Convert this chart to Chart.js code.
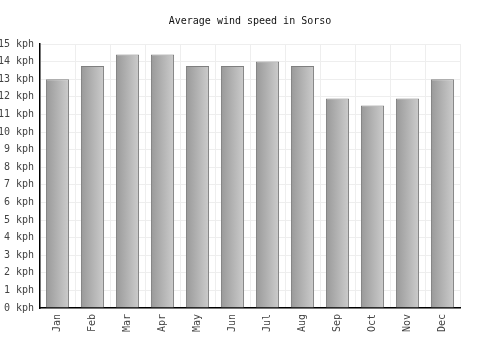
<!DOCTYPE html>
<html>
<head>
<meta charset="utf-8">
<script src="https://cdn.jsdelivr.net/npm/chart.js@4/dist/chart.umd.min.js"></script>
<style>
html,body{margin:0;padding:0;background:#fff;}
#wrap{width:500px;height:350px;}
</style>
</head>
<body>
<div id="wrap"><canvas id="c" width="500" height="350"></canvas></div>
<script>
const months = ["Jan","Feb","Mar","Apr","May","Jun","Jul","Aug","Sep","Oct","Nov","Dec"];
const windSpeed = [13.0, 13.75, 14.4, 14.4, 13.75, 13.75, 14.0, 13.75, 11.9, 11.5, 11.9, 13.0];
const unit = "kph";
const titleText = "Average wind speed in Sorso";

const FONT = "'DejaVu Sans Mono', monospace";
const BAR_PCT = 0.66;

function barGradient(context) {
  const chart = context.chart;
  const xs = chart.scales && chart.scales.x;
  if (!xs || context.dataIndex === undefined) return '#b0b0b0';
  const cx = xs.getPixelForValue(context.dataIndex);
  const w = xs.width / months.length * BAR_PCT;
  if (!isFinite(cx) || !isFinite(w) || w <= 0) return '#b0b0b0';
  const g = chart.ctx.createLinearGradient(cx - w / 2, 0, cx + w / 2, 0);
  g.addColorStop(0, '#999999');
  g.addColorStop(1, '#cccccc');
  return g;
}

new Chart(document.getElementById('c'), {
  type: 'bar',
  data: {
    labels: months,
    datasets: [{
      data: windSpeed,
      backgroundColor: barGradient,
      borderColor: '#7f7f7f',
      borderWidth: 1,
      borderSkipped: 'bottom',
      barPercentage: BAR_PCT,
      categoryPercentage: 1.0
    }]
  },
  options: {
    responsive: false,
    animation: false,
    devicePixelRatio: 1,
    layout: { padding: 0 },
    plugins: {
      legend: { display: false },
      tooltip: { enabled: false },
      title: {
        display: true,
        text: titleText,
        color: '#111',
        font: { family: FONT, size: 10, weight: 'normal' },
        padding: { top: 15, bottom: 17 }
      }
    },
    scales: {
      x: {
        offset: true,
        grid: { color: '#eeeeee', offset: true, drawTicks: false },
        border: { color: '#000', width: 1.5 },
        ticks: {
          color: '#444',
          font: { family: FONT, size: 10 },
          maxRotation: 90, minRotation: 90,
          padding: 6
        },
        afterFit(scale) { scale.height = 42; }
      },
      y: {
        min: 0, max: 15,
        grid: { color: '#eeeeee', drawTicks: false },
        border: { color: '#000', width: 1.5 },
        ticks: {
          stepSize: 1,
          color: '#444',
          font: { family: FONT, size: 10 },
          padding: 6,
          callback: v => v + ' ' + unit
        },
        afterFit(scale) { scale.width = 40; }
      },
      yRight: {
        position: 'right',
        min: 0, max: 15,
        grid: { display: false, drawTicks: false },
        border: { display: false },
        ticks: { display: false },
        afterFit(scale) { scale.width = 40; }
      }
    }
  }
});
</script>
</body>
</html>
